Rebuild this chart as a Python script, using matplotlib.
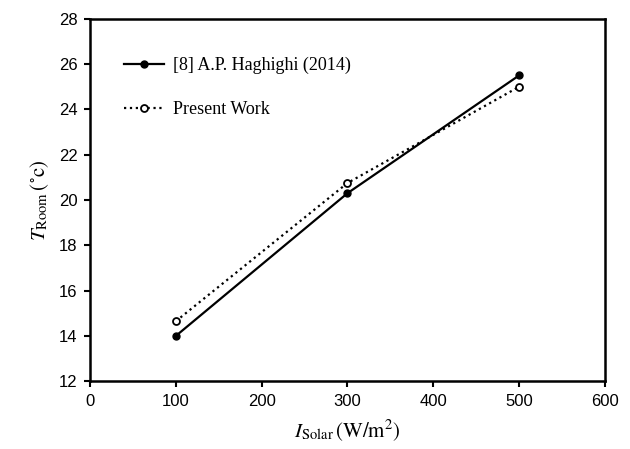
import matplotlib.pyplot as plt

# data
irradiance = [100, 300, 500]
haghighi = [14.0, 20.3, 25.5]
present = [14.65, 20.75, 25.0]

plt.rcParams['mathtext.fontset'] = 'stix'

fig = plt.figure(figsize=(6.3, 4.49), dpi=100)
ax = fig.add_axes([0.143, 0.151, 0.817, 0.807])

ax.plot(irradiance, haghighi, '-', color='black', lw=1.6, marker='o', ms=5,
        mfc='black', mec='black', label='[8] A.P. Haghighi (2014)')
ax.plot(irradiance, present, ':', color='black', lw=1.6, marker='o', ms=5,
        mfc='white', mec='black', mew=1.3, label='Present Work')

ax.set_xlim(0, 600)
ax.set_ylim(12, 28)
ax.set_xticks(range(0, 601, 100))
ax.set_yticks(range(12, 29, 2))
ax.tick_params(direction='out', length=4, width=1.5, labelsize=12, pad=5)
for lab in ax.get_xticklabels() + ax.get_yticklabels():
    lab.set_family('Liberation Sans')
for sp in ax.spines.values():
    sp.set_linewidth(1.8)

ax.set_xlabel(r'$\mathit{I}_{\mathrm{Solar}}\,\mathrm{(W/m^2)}$', fontsize=15, labelpad=6)
ax.set_ylabel(r'$\mathit{T}_{\mathrm{Room}}\,\mathrm{(^{\circ}c)}$', fontsize=15, labelpad=6)

leg = ax.legend(loc='upper left', bbox_to_anchor=(0.035, 0.94), frameon=False,
                handlelength=2.2, handletextpad=0.5, labelspacing=1.5,
                prop={'family': 'Liberation Serif', 'size': 13})

fig.savefig('out.png')
